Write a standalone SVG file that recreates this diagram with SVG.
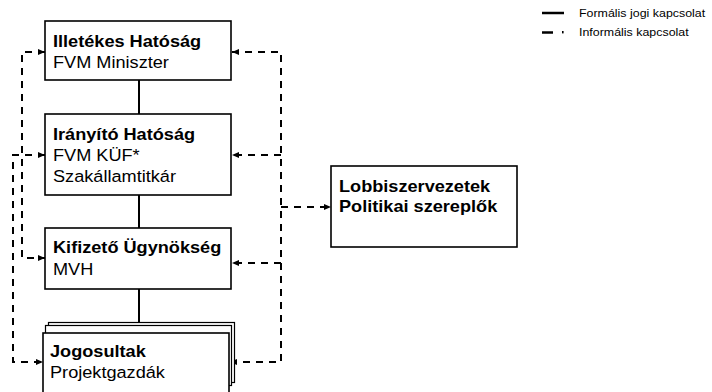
<svg xmlns="http://www.w3.org/2000/svg" width="712" height="392" viewBox="0 0 712 392">
<style>
.box{fill:#fff;stroke:#000;stroke-width:1.6}
.back{fill:#fff;stroke:#000;stroke-width:1.2}
text{font-family:"Liberation Sans",Arial,sans-serif;fill:#000}
.t{font-size:16.5px}
.b{font-size:16.5px;font-weight:bold}
.lg{font-size:11px}
.solid{fill:none;stroke:#000;stroke-width:2}
.dash{fill:none;stroke:#000;stroke-width:2;stroke-dasharray:7 6}
</style>
<defs>
<marker id="ah" markerUnits="userSpaceOnUse" markerWidth="8" markerHeight="7" refX="7" refY="3" orient="auto-start-reverse">
<path d="M0,0 L7,3 L0,6 z" fill="#000"/>
</marker>
</defs>

<g id="connectors">
<path class="solid" d="M139,80 V114"/>
<path class="solid" d="M139,195 V228"/>
<path class="solid" d="M139,289 V323"/>
<path class="dash" d="M45,52 H22 V258 H45" marker-start="url(#ah)" marker-end="url(#ah)"/>
<path class="dash" d="M45,155 H13 V362 H43" marker-start="url(#ah)" marker-end="url(#ah)"/>
<path class="dash" d="M232,52 H281 V362 H230" marker-start="url(#ah)" marker-end="url(#ah)"/>
<path class="dash" d="M281,155 H232" marker-end="url(#ah)"/>
<path class="dash" d="M281,263 H232" marker-end="url(#ah)"/>
<path class="dash" d="M281,207 H331" marker-end="url(#ah)"/>
</g>

<g id="illetekes">
<rect class="box" x="45" y="21" width="186" height="59"/>
<text class="b" transform="translate(53 47) scale(1.1 1)">Illetékes Hatóság</text>
<text class="t" transform="translate(53 68) scale(1.1 1)">FVM Miniszter</text>
</g>

<g id="iranyito">
<rect class="box" x="45" y="114" width="186" height="81"/>
<text class="b" transform="translate(53 140) scale(1.1 1)">Irányító Hatóság</text>
<text class="t" transform="translate(53 161) scale(1.1 1)">FVM KÜF*</text>
<text class="t" transform="translate(53 182) scale(1.1 1)">Szakállamtitkár</text>
</g>

<g id="kifizeto">
<rect class="box" x="45" y="228" width="186" height="61"/>
<text class="b" transform="translate(53 253) scale(1.1 1)">Kifizető Ügynökség</text>
<text class="t" transform="translate(53 275) scale(1.1 1)">MVH</text>
</g>

<g id="jogosultak">
<rect class="back" x="48.5" y="322.5" width="186" height="60"/>
<rect class="back" x="45.5" y="325.5" width="186" height="60"/>
<rect class="box" x="43" y="333" width="186" height="60"/>
<text class="b" transform="translate(50 357) scale(1.1 1)">Jogosultak</text>
<text class="t" transform="translate(50 378) scale(1.1 1)">Projektgazdák</text>
</g>

<g id="lobbi">
<rect class="box" x="331" y="166" width="186" height="81"/>
<text class="b" transform="translate(339 192) scale(1.1 1)">Lobbiszervezetek</text>
<text class="b" transform="translate(339 212) scale(1.1 1)">Politikai szereplők</text>
</g>

<g id="legend">
<line x1="542" y1="13" x2="564" y2="13" stroke="#000" stroke-width="2.5"/>
<line x1="542" y1="32.5" x2="553" y2="32.5" stroke="#000" stroke-width="2.5"/>
<rect x="562" y="31" width="1.6" height="2.4" fill="#000"/>
<text class="lg" transform="translate(579 17) scale(1.13 1)">Formális jogi kapcsolat</text>
<text class="lg" transform="translate(579 36) scale(1.13 1)">Informális kapcsolat</text>
</g>
</svg>
